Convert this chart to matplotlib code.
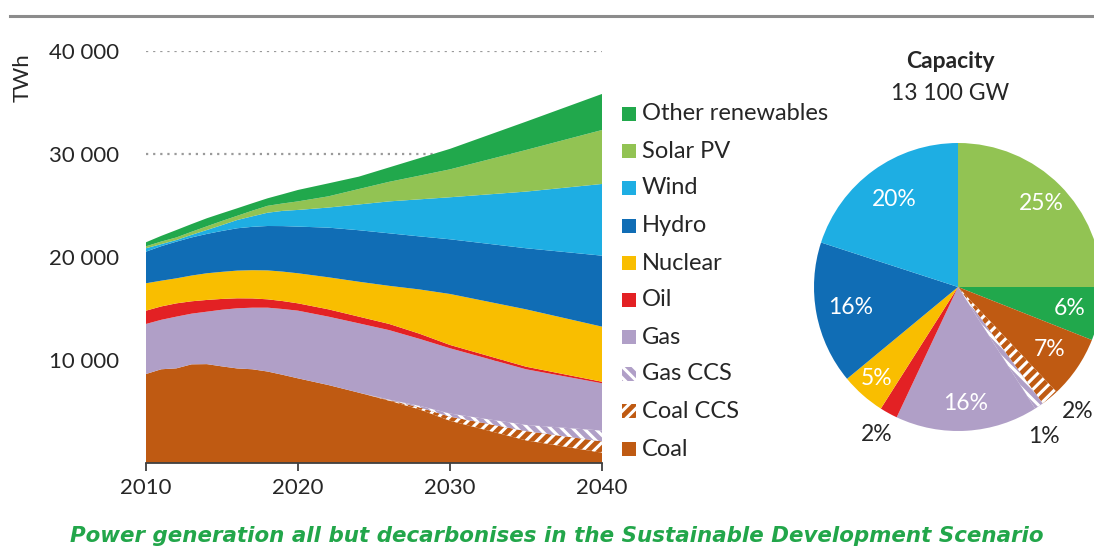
import numpy as np
import matplotlib.pyplot as plt
from matplotlib.patches import Rectangle
from matplotlib.lines import Line2D

plt.rcParams['font.family'] = ['Lato', 'DejaVu Sans']
plt.rcParams['hatch.linewidth'] = 2.2

# données (TWh)
years = [2010, 2011, 2012, 2013, 2014, 2015, 2016, 2017, 2018, 2019, 2020,
         2022, 2024, 2026, 2028, 2030, 2035, 2040]
coal = [8640, 9100, 9190, 9580, 9600, 9380, 9180, 9100, 8880, 8560, 8220,
        7570, 6830, 6050, 5200, 4100, 2200, 1000]
coal_ccs = [0, 0, 0, 0, 0, 0, 0, 0, 0, 0, 0, 0, 0, 50, 200, 400, 900, 1100]
gas_ccs = [0, 0, 0, 0, 0, 0, 0, 0, 0, 0, 0, 0, 0, 50, 150, 300, 600, 1050]
gas = [4860, 4800, 5020, 4920, 5090, 5500, 5840, 5980, 6200, 6390, 6570,
       6640, 6730, 6750, 6500, 6340, 5400, 4590]
oil = [1290, 1300, 1290, 1200, 1140, 1050, 970, 900, 810, 770, 710,
       710, 650, 600, 500, 320, 250, 150]
nuclear = [2660, 2500, 2430, 2500, 2590, 2630, 2690, 2740, 2810, 2860, 2920,
           3110, 3390, 3700, 4300, 4950, 5570, 5350]
hydro = [3070, 3350, 3560, 3700, 3820, 3970, 4110, 4210, 4310, 4420, 4530,
         4820, 5000, 5100, 5150, 5310, 5930, 6890]
wind = [330, 200, 160, 250, 380, 570, 800, 1020, 1290, 1480, 1620,
        1950, 2500, 3100, 3600, 4080, 5500, 6960]
solar = [190, 250, 250, 300, 360, 400, 410, 550, 670, 720, 830,
         1090, 1500, 1900, 2300, 2710, 4040, 5240]
other = [390, 550, 720, 750, 780, 750, 730, 720, 730, 900, 1110,
         1260, 1200, 1400, 1700, 1990, 2750, 3500]

labels = ["Coal", "Coal CCS", "Gas CCS", "Gas", "Oil", "Nuclear", "Hydro",
          "Wind", "Solar PV", "Other renewables"]
colors = ["#bf5a12", "#bf5a12", "#b09fc7", "#b09fc7", "#e32124", "#f9be00",
          "#106db5", "#1eaee3", "#92c353", "#21a84c"]
hatches = [None, "///", "\\\\\\", None, None, None, None, None, None, None]

# capacité 2040 (camembert), sens horaire depuis midi
pie_labels = ["Solar PV", "Other renewables", "Coal", "Coal CCS", "Gas CCS",
              "Gas", "Oil", "Nuclear", "Hydro", "Wind"]
pie_pct = [25, 6, 7, 2, 1, 16, 2, 5, 16, 20]

W, H = 1094, 546
fig = plt.figure(figsize=(W / 100, H / 100), dpi=100)
TXT = "#262626"

# filet gris en haut
fig.add_artist(Line2D([10 / W, 1], [1 - 16 / H, 1 - 16 / H], color="#8c8c8c", lw=2.2))

ax = fig.add_axes([146 / W, (H - 463) / H, (602 - 146) / W, (463 - 51) / H])
polys = ax.stackplot(years, coal, coal_ccs, gas_ccs, gas, oil, nuclear, hydro,
                     wind, solar, other, colors=colors, lw=0, zorder=2)
for p, h in zip(polys, hatches):
    p.set_linewidth(0)
    if h:
        p.set_hatch(h)
        p.set_edgecolor("white")
ax.set_xlim(2010, 2040)
ax.set_ylim(0, 40000)
ax.set_xticks([2010, 2020, 2030, 2040])
ax.set_yticks([10000, 20000, 30000, 40000])
ax.set_yticklabels(["10 000", "20 000", "30 000", "40 000"])
ax.yaxis.grid(True, color="#9a9a9a", linestyle=(0, (1, 2.2)), lw=1.6, zorder=0)
ax.set_axisbelow(True)
for s in ["top", "right", "left"]:
    ax.spines[s].set_visible(False)
ax.spines["bottom"].set_color("#404040")
ax.spines["bottom"].set_linewidth(1.3)
ax.spines["bottom"].set_zorder(3)
ax.tick_params(axis="x", direction="out", length=6, width=1.3, color="#404040",
               labelsize=16, labelcolor=TXT, pad=5)
ax.tick_params(axis="y", length=0, labelsize=16, labelcolor=TXT, pad=19)
fig.text(23 / W, 1 - 78 / H, "TWh", rotation=90, fontsize=16, color=TXT,
         ha="center", va="center")

# légende manuelle
leg_y = [114, 151, 188, 226, 263, 300, 337, 374, 411, 449]
for i, k in enumerate(range(len(labels) - 1, -1, -1)):
    y = leg_y[i]
    r = Rectangle((622 / W, 1 - (y + 7) / H), 14 / W, 14 / H, transform=fig.transFigure,
                  facecolor=colors[k], edgecolor="white" if hatches[k] else colors[k],
                  lw=0, hatch=hatches[k])
    fig.add_artist(r)
    fig.text(642 / W, 1 - y / H, labels[k], fontsize=17, color=TXT,
             ha="left", va="center")

# camembert
cx, cy, rad = 958, 287, 144
axp = fig.add_axes([(cx - rad) / W, (H - cy - rad) / H, 2 * rad / W, 2 * rad / H])
pie_colors = [colors[labels.index(l)] for l in pie_labels]
pie_hatch = [hatches[labels.index(l)] for l in pie_labels]
wedges, _ = axp.pie(pie_pct, colors=pie_colors, startangle=90, counterclock=False,
                    radius=1, wedgeprops=dict(lw=0))
axp.set_xlim(-1, 1)
axp.set_ylim(-1, 1)
axp.set_aspect("equal")
axp.axis("off")
# position des étiquettes : rayon relatif et angle (None = milieu du secteur)
lab_r = [0.82, 0.79, 0.77, 1.2, 1.2, 0.81, 1.17, 0.85, 0.76, 0.75]
lab_ang = [None, None, None, -46, -60, None, None, None, None, None]
for w, h, pct, rr, aa in zip(wedges, pie_hatch, pie_pct, lab_r, lab_ang):
    w.set_clip_on(False)
    if h:
        w.set_hatch(h)
        w.set_edgecolor("white")
        w.set_linewidth(0)
    ang = np.deg2rad((w.theta1 + w.theta2) / 2 if aa is None else aa)
    inside = rr < 1
    axp.text(rr * np.cos(ang), rr * np.sin(ang), f"{pct}%", fontsize=16.5,
             color="white" if inside else TXT, ha="center", va="center",
             clip_on=False)

fig.text(950 / W, 1 - 62 / H, "Capacity", fontsize=16.5, fontweight="bold",
         color=TXT, ha="center", va="center")
fig.text(950 / W, 1 - 93 / H, "13 100 GW", fontsize=16.5, color=TXT,
         ha="center", va="center")

fig.text(557 / W, 1 - 536 / H,
         "Power generation all but decarbonises in the Sustainable Development Scenario",
         fontsize=15.4, fontweight="bold", fontstyle="italic", color="#22a64a",
         family="DejaVu Sans", ha="center", va="center")

fig.savefig("out.png", dpi=100)
